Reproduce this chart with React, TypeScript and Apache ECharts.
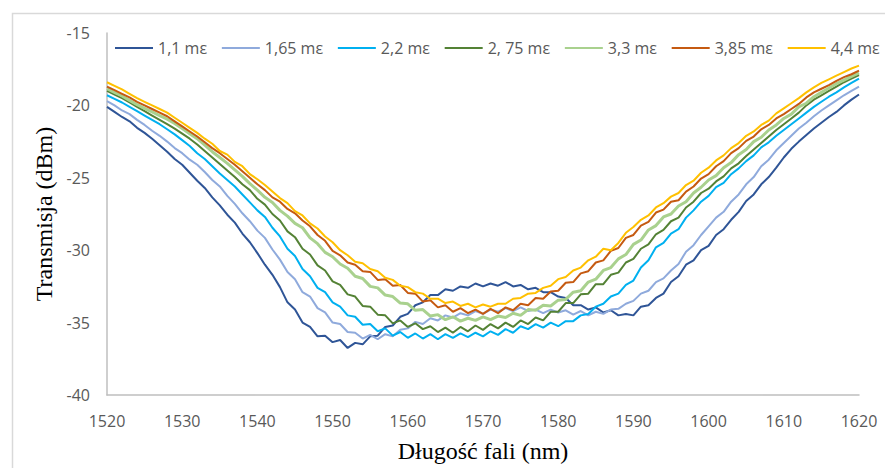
import React, { useEffect, useRef } from "react";
import * as echarts from "echarts";

// Wavelength samples (nm), 1 nm step
const WAVELENGTHS: number[] = Array.from({ length: 101 }, (_, i) => 1520 + i);

const SERIES_NAMES = ["1,1 mε", "1,65 mε", "2,2 mε", "2, 75 mε", "3,3 mε", "3,85 mε", "4,4 mε"];
const SERIES_COLORS = ["#2F5597", "#8FAADC", "#00B0F0", "#548235", "#A9D18E", "#C55A11", "#FFC000"];

const S_1_1 = [
  -20.1, -20.45, -20.8, -21.1, -21.55, -21.9, -22.3, -22.75, -23.2, -23.7,
  -24.1, -24.65, -25.2, -25.7, -26.35, -26.9, -27.55, -28.1, -28.85, -29.45,
  -30.2, -31.0, -31.7, -32.55, -33.6, -34.1, -35.0, -35.3, -35.95, -35.9,
  -36.35, -36.2, -36.75, -36.4, -36.5, -35.95, -35.9, -35.3, -35.2, -34.6,
  -34.4, -33.8, -33.6, -33.1, -33.1, -32.7, -32.8, -32.5, -32.6, -32.3,
  -32.5, -32.3, -32.45, -32.2, -32.5, -32.4, -32.7, -32.6, -32.9, -32.9,
  -33.2, -33.3, -33.8, -33.8, -34.1, -33.95, -34.3, -34.15, -34.5, -34.4,
  -34.5, -33.9, -33.8, -33.3, -33.0, -32.2, -31.8, -31.0, -30.7, -30.0,
  -29.7, -28.95, -28.55, -27.9, -27.35, -26.6, -26.15, -25.45, -24.95, -24.3,
  -23.6, -23.0, -22.5, -22.05, -21.6, -21.2, -20.8, -20.45, -20.0, -19.6,
  -19.25,
];
const S_1_65 = [
  -19.7, -20.0, -20.35, -20.6, -21.0, -21.35, -21.75, -22.1, -22.5, -22.95,
  -23.3, -23.75, -24.1, -24.6, -25.15, -25.6, -26.25, -26.8, -27.45, -28.0,
  -28.65, -29.15, -29.95, -30.65, -31.5, -32.0, -32.9, -33.2, -34.0, -34.3,
  -35.0, -35.1, -35.65, -35.7, -36.1, -35.85, -36.15, -35.8, -35.95, -35.5,
  -35.4, -34.95, -35.1, -34.7, -34.85, -34.5, -34.65, -34.35, -34.5, -34.2,
  -34.4, -34.1, -34.25, -34.0, -34.2, -33.95, -34.2, -34.1, -34.35, -34.1,
  -34.3, -34.15, -34.45, -34.2, -34.5, -34.25, -34.4, -34.1, -34.05, -33.7,
  -33.5, -33.0, -32.8, -32.2, -31.95, -31.4, -30.95, -30.1, -29.65, -28.95,
  -28.35, -27.75, -27.35, -26.65, -26.15, -25.45, -24.95, -24.2, -23.75, -23.1,
  -22.6, -22.1, -21.6, -21.2, -20.75, -20.35, -20.0, -19.65, -19.3, -19.0,
  -18.7,
];
const S_2_2 = [
  -19.3, -19.55, -19.8, -20.1, -20.4, -20.7, -21.0, -21.3, -21.65, -22.0,
  -22.4, -22.8, -23.3, -23.7, -24.2, -24.7, -25.15, -25.6, -26.15, -26.7,
  -27.25, -27.7, -28.45, -29.05, -29.9, -30.4, -31.3, -31.8, -32.6, -32.9,
  -33.6, -33.9, -34.5, -34.6, -35.15, -35.1, -35.6, -35.4, -35.9, -35.65,
  -36.05, -35.75, -36.1, -35.8, -36.15, -35.8, -36.05, -35.75, -36.0, -35.7,
  -35.95, -35.6, -35.85, -35.45, -35.7, -35.25, -35.45, -35.1, -35.35, -35.0,
  -35.25, -34.9, -34.9, -34.5, -34.4, -33.9, -33.7, -33.2, -33.0, -32.4,
  -32.1, -31.2, -30.7, -29.8, -29.5, -28.85, -28.55, -27.75, -27.25, -26.65,
  -26.25, -25.65, -25.35, -24.75, -24.35, -23.85, -23.45, -22.9, -22.55, -22.1,
  -21.7, -21.3, -20.9, -20.5, -20.1, -19.75, -19.4, -19.1, -18.75, -18.45,
  -18.15,
];
const S_2_75 = [
  -19.0, -19.25, -19.5, -19.8, -20.1, -20.4, -20.7, -21.0, -21.3, -21.6,
  -21.95, -22.3, -22.7, -23.15, -23.6, -24.05, -24.5, -24.95, -25.45, -25.85,
  -26.45, -26.85, -27.5, -27.95, -28.7, -29.1, -29.9, -30.3, -31.05, -31.4,
  -32.15, -32.4, -33.05, -33.2, -33.85, -33.9, -34.45, -34.5, -35.05, -34.85,
  -35.3, -35.05, -35.45, -35.25, -35.65, -35.35, -35.7, -35.3, -35.6, -35.2,
  -35.5, -35.1, -35.4, -35.0, -35.3, -34.85, -35.1, -34.65, -34.85, -34.25,
  -34.25, -33.65, -33.65, -33.05, -33.0, -32.35, -32.35, -31.7, -31.55, -30.85,
  -30.6, -29.9, -29.6, -28.9, -28.6, -28.0, -27.75, -27.05, -26.65, -26.05,
  -25.75, -25.25, -24.9, -24.35, -24.0, -23.5, -23.05, -22.6, -22.15, -21.7,
  -21.3, -20.9, -20.5, -20.0, -19.6, -19.3, -19.0, -18.7, -18.4, -18.15,
  -17.9,
];
const S_3_3 = [
  -18.85, -19.1, -19.35, -19.65, -19.95, -20.2, -20.45, -20.7, -20.95, -21.25,
  -21.6, -21.95, -22.3, -22.75, -23.2, -23.6, -24.0, -24.45, -24.9, -25.4,
  -25.85, -26.35, -26.7, -27.25, -27.65, -28.15, -28.45, -29.15, -29.55, -30.15,
  -30.45, -30.95, -31.25, -31.8, -31.95, -32.5, -32.6, -33.1, -33.2, -33.65,
  -33.7, -34.15, -34.1, -34.55, -34.45, -34.8, -34.6, -34.9, -34.7, -34.85,
  -34.6, -34.8, -34.55, -34.65, -34.35, -34.5, -34.1, -34.15, -33.8, -33.85,
  -33.45, -33.4, -32.9, -32.8, -32.2, -32.0, -31.4, -31.2, -30.6, -30.3,
  -29.6, -29.3, -28.6, -28.3, -27.7, -27.5, -26.95, -26.65, -26.05, -25.65,
  -25.15, -24.85, -24.3, -23.95, -23.4, -23.05, -22.5, -22.2, -21.7, -21.35,
  -20.9, -20.6, -20.1, -19.85, -19.4, -19.1, -18.8, -18.5, -18.25, -18.0,
  -17.75,
];
const S_3_85 = [
  -18.7, -18.95, -19.2, -19.45, -19.75, -20.0, -20.25, -20.5, -20.75, -21.1,
  -21.45, -21.8, -22.15, -22.55, -22.95, -23.3, -23.7, -24.1, -24.55, -25.0,
  -25.45, -25.85, -26.35, -26.65, -27.15, -27.45, -27.95, -28.35, -28.95, -29.35,
  -30.05, -30.35, -30.85, -31.0, -31.45, -31.5, -32.05, -32.0, -32.45, -32.4,
  -32.95, -33.0, -33.55, -33.45, -33.95, -33.8, -34.25, -34.0, -34.35, -34.1,
  -34.4, -34.05, -34.35, -33.95, -34.15, -33.7, -33.8, -33.3, -33.35, -32.85,
  -32.8, -32.25, -32.2, -31.6, -31.45, -30.85, -30.7, -30.05, -29.85, -29.15,
  -28.95, -28.3, -28.05, -27.4, -27.2, -26.65, -26.55, -25.95, -25.6, -25.05,
  -24.75, -24.2, -23.85, -23.3, -22.95, -22.45, -22.15, -21.65, -21.35, -20.9,
  -20.6, -20.25, -19.9, -19.45, -19.1, -18.85, -18.6, -18.3, -18.05, -17.85,
  -17.6,
];
const S_4_4 = [
  -18.4, -18.65, -18.9, -19.2, -19.5, -19.75, -20.0, -20.25, -20.5, -20.85,
  -21.2, -21.55, -21.9, -22.3, -22.65, -23.15, -23.4, -23.9, -24.2, -24.75,
  -25.1, -25.5, -25.95, -26.4, -26.75, -27.3, -27.6, -28.15, -28.5, -29.05,
  -29.45, -30.0, -30.35, -30.8, -30.9, -31.3, -31.45, -31.9, -32.05, -32.45,
  -32.55, -32.9, -33.0, -33.35, -33.35, -33.65, -33.55, -33.85, -33.7, -33.95,
  -33.75, -33.9, -33.7, -33.7, -33.35, -33.3, -33.0, -32.95, -32.6, -32.45,
  -32.0, -31.85, -31.4, -31.2, -30.7, -30.45, -29.9, -30.0, -29.5, -28.8,
  -28.4, -27.9, -27.6, -27.05, -26.75, -26.3, -26.05, -25.5, -25.2, -24.65,
  -24.3, -23.8, -23.45, -22.95, -22.6, -22.1, -21.8, -21.35, -21.05, -20.55,
  -20.2, -19.85, -19.5, -19.1, -18.75, -18.45, -18.2, -17.95, -17.7, -17.45,
  -17.25,
];

const SERIES_VALUES = [S_1_1, S_1_65, S_2_2, S_2_75, S_3_3, S_3_85, S_4_4];
const SERIES_WIDTHS = [2, 2, 2, 2, 3, 2, 2];

const X_MIN = 1520;
const X_MAX = 1620;
const X_STEP = 10;
const Y_MIN = -40;
const Y_MAX = -15;
const Y_STEP = 5;

const SANS = "'Open Sans', 'Liberation Sans', sans-serif";
const SERIF = "'Liberation Serif', 'DejaVu Serif', serif";

export default function App() {
  const ref = useRef<HTMLDivElement>(null);

  useEffect(() => {
    if (!ref.current) return;
    const chart = echarts.init(ref.current, undefined, { renderer: "svg" });
    const series = SERIES_NAMES.map((name, i) => ({
      name,
      type: "line" as const,
      data: WAVELENGTHS.map((x, j) => [x, SERIES_VALUES[i][j]]),
      showSymbol: false,
      symbol: "none",
      lineStyle: { color: SERIES_COLORS[i], width: SERIES_WIDTHS[i] },
      itemStyle: { color: SERIES_COLORS[i] },
      emphasis: { disabled: true },
    }));
    chart.setOption({
      animation: false,
      backgroundColor: "#ffffff",
      graphic: [
        {
          type: "rect",
          left: 10,
          top: 11,
          shape: { x: 0, y: 0, width: 900, height: 500 },
          style: { fill: "none", stroke: "#d9d9d9", lineWidth: 1.5 },
          silent: true,
        },
      ],
      grid: { left: 107, right: 26, top: 33, bottom: 70, containLabel: false },
      legend: {
        left: 115,
        top: 40,
        padding: 0,
        icon: "rect",
        itemWidth: 38,
        itemHeight: 2,
        itemGap: 14.8,
        textStyle: { fontFamily: SANS, fontSize: 16, color: "#595959" },
        data: SERIES_NAMES.map((name, i) => ({
          name,
          icon: "rect",
          itemStyle: { color: SERIES_COLORS[i] },
        })),
      },
      xAxis: {
        type: "value",
        min: X_MIN,
        max: X_MAX,
        interval: X_STEP,
        name: "Długość fali (nm)",
        nameLocation: "middle",
        nameGap: 44,
        nameTextStyle: { fontFamily: SERIF, fontSize: 24, color: "#000000" },
        axisLine: { show: true, onZero: false, lineStyle: { color: "#bfbfbf", width: 1.5 } },
        axisTick: { show: false },
        splitLine: { show: false },
        axisLabel: {
          fontFamily: SANS,
          fontSize: 16,
          color: "#595959",
          margin: 18,
          formatter: (v: number) => String(v),
        },
      },
      yAxis: {
        type: "value",
        min: Y_MIN,
        max: Y_MAX,
        interval: Y_STEP,
        name: "Transmisja (dBm)",
        nameLocation: "middle",
        nameGap: 46,
        nameTextStyle: { fontFamily: SERIF, fontSize: 24, color: "#000000" },
        axisLine: { show: true, onZero: false, lineStyle: { color: "#bfbfbf", width: 1.5 } },
        axisTick: { show: false },
        splitLine: { show: false },
        axisLabel: {
          fontFamily: SANS,
          fontSize: 16,
          color: "#595959",
          margin: 17,
          formatter: (v: number) => String(v),
        },
      },
      series,
    });
    return () => chart.dispose();
  }, []);

  return (
    <div
      ref={ref}
      style={{ position: "absolute", left: 0, top: 0, width: 885, height: 468 }}
    />
  );
}
